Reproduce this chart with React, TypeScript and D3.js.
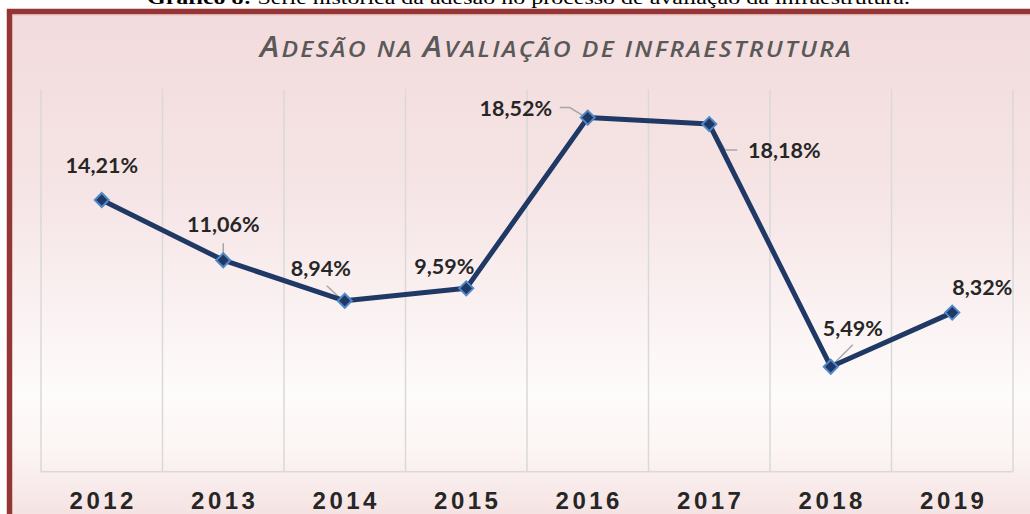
import React from "react";
import * as d3 from "d3";

const years = ["2012", "2013", "2014", "2015", "2016", "2017", "2018", "2019"];
const adesao = [14.21, 11.06, 8.94, 9.59, 18.52, 18.18, 5.49, 8.32];
const valueLabels = ["14,21%", "11,06%", "8,94%", "9,59%", "18,52%", "18,18%", "5,49%", "8,32%"];
// label offsets relative to point (dx, dy of baseline centre) and leader lines
const labelOffsets: [number, number][] = [
  [0, -27], [0, -28], [-24, -25], [-22, -14], [-72, -2], [75, 34], [22, -31], [30, -18],
];
const leaders: ([number, number][] | null)[] = [
  null,
  [[0, -17], [0, -2]],
  [[-18, -15], [-4, -2]],
  null,
  [[-28, -10], [-18, -10], [-3, -1]],
  [[2, 2], [16, 26], [28, 26]],
  [[22, -22], [4, -4]],
  null,
];

const W = 1030;
const H = 514;

export default function App() {
  const x = d3.scaleBand<string>().domain(years).range([41, 1013]).padding(0);
  const y = d3.scaleLinear().domain([0, 20]).range([471.7, 89.3]);
  const cx = (i: number) => (x(years[i]) as number) + x.bandwidth() / 2;
  const line = d3
    .line<number>()
    .x((_, i) => cx(i))
    .y((d) => y(d));
  const gridXs = d3.range(years.length + 1).map((i) => 41 + i * x.bandwidth());
  const ds = 7;

  return (
    <div style={{ position: "absolute", left: 0, top: 0, width: W, height: H, overflow: "hidden" }}>
      <svg width={W} height={H} style={{ display: "block" }}>
        <defs>
          <linearGradient id="bg" x1="0" y1="0" x2="0" y2="1">
            <stop offset="0" stopColor="#f2dbdc" />
            <stop offset="0.35" stopColor="#f6e5e6" />
            <stop offset="0.72" stopColor="#fefbfb" />
            <stop offset="0.82" stopColor="#fcf5f4" />
            <stop offset="1" stopColor="#f2dadb" />
          </linearGradient>
        </defs>
        <rect x={0} y={0} width={W} height={H} fill="#ffffff" />
        <text
          x={147}
          y={4}
          fontFamily="'Liberation Serif', 'Times New Roman', serif"
          fontSize={19}
          fill="#000"
          textLength={763}
          lengthAdjust="spacingAndGlyphs"
        >
          <tspan fontWeight="bold">Gráfico 8:</tspan>
          <tspan> Série histórica da adesão no processo de avaliação da infraestrutura.</tspan>
        </text>
        <rect x={9.5} y={11.5} width={W + 20} height={H + 20} fill="url(#bg)" stroke="#963634" strokeWidth={5.5} />
        <line x1={12.5} y1={14.8} x2={W} y2={14.8} stroke="#e3aeb0" strokeWidth={1} />

        <text
          x={260}
          y={57}
          fontFamily="'Open Sans', Lato, sans-serif"
          fontStyle="italic"
          fontWeight="600"
          fill="#595959"
          letterSpacing={2}
          textLength={593}
          lengthAdjust="spacingAndGlyphs"
        >
          <tspan fontSize={28}>A</tspan>
          <tspan fontSize={21.5}>DESÃO NA </tspan>
          <tspan fontSize={28}>A</tspan>
          <tspan fontSize={21.5}>VALIAÇÃO DE INFRAESTRUTURA</tspan>
        </text>

        {gridXs.map((gx, i) => (
          <line key={i} x1={gx} x2={gx} y1={y(20)} y2={y(0)} stroke="#d9d9d9" strokeWidth={1.5} />
        ))}
        <line x1={41} x2={1013} y1={y(0)} y2={y(0)} stroke="#d9d9d9" strokeWidth={1.5} />

        {years.map((yr, i) => (
          <text
            key={yr}
            x={cx(i) + 1.5}
            y={509}
            textAnchor="middle"
            fontFamily="'Liberation Sans', Arial, sans-serif"
            fontWeight="bold"
            fontSize={24}
            letterSpacing={3.5}
            fill="#262626"
          >
            {yr}
          </text>
        ))}

        {leaders.map((pts, i) =>
          pts ? (
            <polyline
              key={i}
              points={pts.map(([dx, dy]) => `${cx(i) + dx},${y(adesao[i]) + dy}`).join(" ")}
              fill="none"
              stroke="#a6a6a6"
              strokeWidth={1.5}
            />
          ) : null
        )}

        <path d={line(adesao) || ""} fill="none" stroke="#1f3864" strokeWidth={5} strokeLinejoin="round" />

        {adesao.map((v, i) => {
          const px = cx(i);
          const py = y(v);
          return (
            <polygon
              key={i}
              points={`${px},${py - ds} ${px + ds},${py} ${px},${py + ds} ${px - ds},${py}`}
              fill="#1f3864"
              stroke="#4f87c9"
              strokeWidth={2}
            />
          );
        })}

        {adesao.map((v, i) => (
          <text
            key={i}
            x={cx(i) + labelOffsets[i][0]}
            y={y(v) + labelOffsets[i][1]}
            textAnchor="middle"
            fontFamily="Lato, 'Open Sans', sans-serif"
            fontWeight="bold"
            fontSize={21.5}
            fill="#262626"
          >
            {valueLabels[i]}
          </text>
        ))}
      </svg>
    </div>
  );
}
